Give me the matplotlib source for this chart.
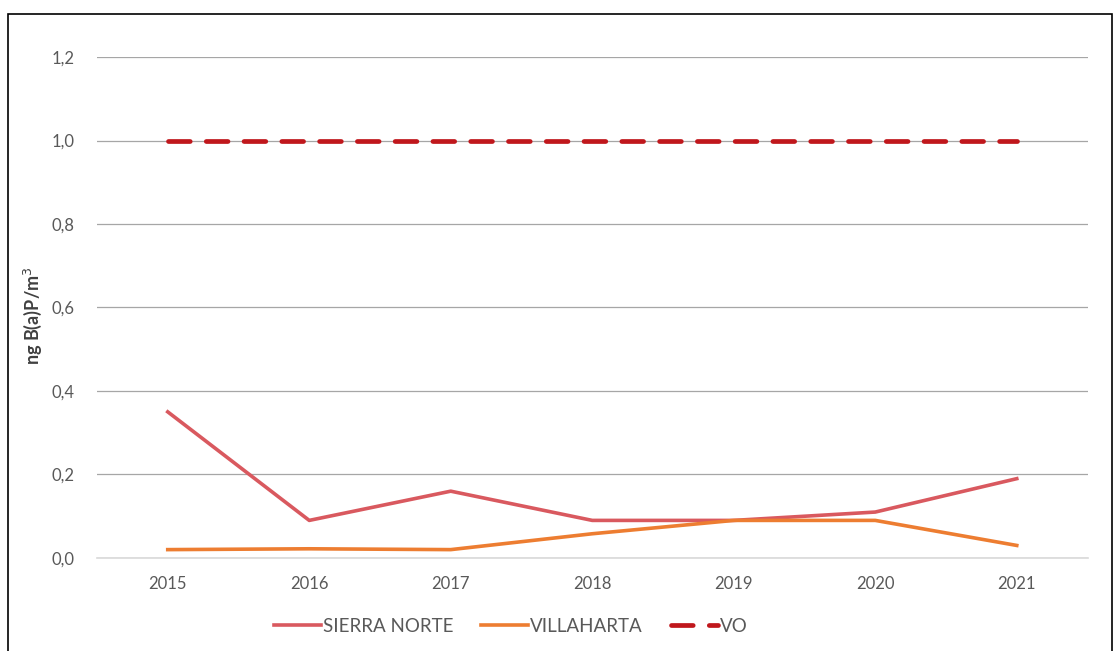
import matplotlib.pyplot as plt
from matplotlib.patches import Rectangle

years = [2015, 2016, 2017, 2018, 2019, 2020, 2021]
sierra_norte = [0.35, 0.09, 0.16, 0.09, 0.09, 0.11, 0.19]
villaharta = [0.02, 0.022, 0.02, 0.058, 0.09, 0.09, 0.03]
vo = [1.0, 1.0, 1.0, 1.0, 1.0, 1.0, 1.0]
yticks = [0.0, 0.2, 0.4, 0.6, 0.8, 1.0, 1.2]

plt.rcParams['font.family'] = ['Lato', 'DejaVu Sans']

fig = plt.figure(figsize=(11.2, 6.51), dpi=100)
ax = fig.add_axes([0.0866, 0.1429, 0.8844, 0.7695])

# outer frame like the exported chart
fig.patches.append(Rectangle((0.007, -0.01), 0.986, 0.989, transform=fig.transFigure,
                             fill=False, edgecolor='black', linewidth=1.2))

ax.plot(years, sierra_norte, color='#D9595F', linewidth=2.6, label='SIERRA NORTE',
        solid_joinstyle='round')
ax.plot(years, villaharta, color='#ED7D31', linewidth=2.6, label='VILLAHARTA',
        solid_joinstyle='round')
ax.plot(years, vo, color='#C0171C', linewidth=3.4, label='VO',
        dashes=(4.6, 3.4), dash_capstyle='round')

ax.set_xlim(2014.5, 2021.5)
ax.set_ylim(0, 1.2)
ax.set_xticks(years)
ax.set_xticklabels([str(y) for y in years])
ax.set_yticks(yticks)
ax.set_yticklabels([f"{v:.1f}".replace('.', ',') for v in yticks])
ax.tick_params(length=0, labelsize=12, labelcolor='#595959', pad=16)
ax.tick_params(axis='x', pad=13)

ax.grid(axis='y', color='#A6A6A6', linewidth=0.9)
ax.set_axisbelow(True)
for side in ['top', 'right', 'left']:
    ax.spines[side].set_visible(False)
ax.spines['bottom'].set_color('#D9D9D9')
ax.spines['bottom'].set_linewidth(1.2)

ax.set_ylabel('ng B(a)P/m$^3$', fontsize=13, fontweight='bold', color='#404040')
ax.yaxis.set_label_coords(-0.053, 0.483)

fig.legend(*ax.get_legend_handles_labels(), loc='center', bbox_to_anchor=(0.456, 0.038),
           ncol=3, frameon=False, fontsize=13.5, labelcolor='#595959', handlelength=2.5,
           handletextpad=0.1, columnspacing=1.5)

fig.savefig('out.png', dpi=100)
